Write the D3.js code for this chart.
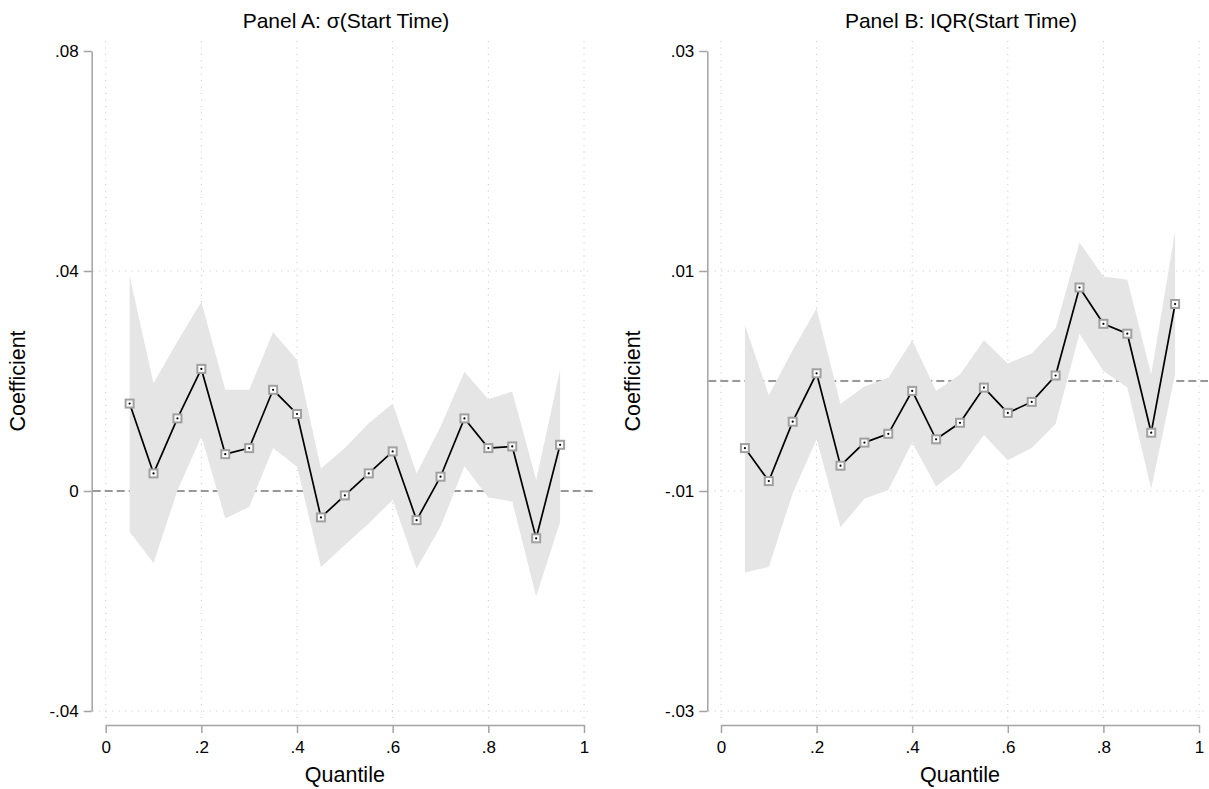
<!DOCTYPE html>
<html>
<head>
<meta charset="utf-8">
<script src="https://cdn.jsdelivr.net/npm/d3@7"></script>
<style>
  body { margin: 0; background: #fff; }
  svg { display: block; font-family: "Liberation Sans", Arial, Helvetica, sans-serif; }
</style>
</head>
<body>
<div id="chart"></div>
<script>
// Quantiles on the x axis
const quantiles = [0.05, 0.10, 0.15, 0.20, 0.25, 0.30, 0.35, 0.40, 0.45, 0.50,
                   0.55, 0.60, 0.65, 0.70, 0.75, 0.80, 0.85, 0.90, 0.95];

// Panel A: sigma(Start Time)
const coefA = [0.0159, 0.0032, 0.0132, 0.0222, 0.0067, 0.0078, 0.0184, 0.0140, -0.0048, -0.0008,
               0.0032, 0.0072, -0.0053, 0.0026, 0.0132, 0.0078, 0.0081, -0.0086, 0.0084];
const loA   = [-0.0074, -0.0131, 0.0001, 0.0099, -0.0050, -0.0029, 0.0078, 0.0044, -0.0138, -0.0098,
               -0.0059, -0.0016, -0.0141, -0.0065, 0.0045, -0.0012, -0.0019, -0.0192, -0.0056];
const hiA   = [0.0391, 0.0196, 0.0272, 0.0344, 0.0184, 0.0184, 0.0289, 0.0238, 0.0041, 0.0078,
               0.0123, 0.0159, 0.0032, 0.0117, 0.0217, 0.0167, 0.0181, 0.0020, 0.0220];

// Panel B: IQR(Start Time)
const coefB = [-0.0061, -0.0091, -0.0037, 0.0007, -0.0077, -0.0056, -0.0048, -0.0009, -0.0053, -0.0038,
               -0.0006, -0.0029, -0.0019, 0.0005, 0.0085, 0.0052, 0.0043, -0.0047, 0.0070];
const loB   = [-0.0174, -0.0169, -0.0102, -0.0053, -0.0133, -0.0107, -0.0099, -0.0056, -0.0096, -0.0079,
               -0.0049, -0.0072, -0.0061, -0.0039, 0.0043, 0.0009, -0.0006, -0.0098, 0.0006];
const hiB   = [0.0051, -0.0013, 0.0028, 0.0066, -0.0021, -0.0005, 0.0003, 0.0037, -0.0009, 0.0006,
               0.0037, 0.0016, 0.0025, 0.0048, 0.0126, 0.0095, 0.0092, 0.0006, 0.0136];

// Tick values
const xTicks = [0, 0.2, 0.4, 0.6, 0.8, 1];
const yTicksA = [-0.04, 0, 0.04, 0.08];
const yTicksB = [-0.03, -0.01, 0.01, 0.03];

const width = 1209, height = 789;

const svg = d3.select("#chart")
    .append("svg")
    .attr("width", width)
    .attr("height", height);

// strip the leading zero like Stata does, plain hyphen for minus
const fmt = d => {
    if (d === 0) return "0";
    if (d === 1) return "1";
    const s = Math.abs(d) < 0.1 ? d3.format(".2f")(Math.abs(d)) : d3.format(".1f")(Math.abs(d));
    return (d < 0 ? "-" : "") + s.replace("0.", ".");
};

const panels = [
    { title: "Panel A: σ(Start Time)", coef: coefA, lo: loA, hi: hiA, yTicks: yTicksA,
      yDomain: [-0.04, 0.08], axisX: 91.7, xRange: [105.7, 584], right: 593, titleX: 346 },
    { title: "Panel B: IQR(Start Time)", coef: coefB, lo: loB, hi: hiB, yTicks: yTicksB,
      yDomain: [-0.03, 0.03], axisX: 707.3, xRange: [721, 1199], right: 1208, titleX: 961 }
];

const gridColor = "#c4c4c4";
const axisColor = "#a3a3a3";

panels.forEach(p => {
    const g = svg.append("g");

    const x = d3.scaleLinear().domain([0, 1]).range(p.xRange);
    const y = d3.scaleLinear().domain(p.yDomain).range([711, 51]);

    // Vertical grid lines
    g.selectAll(".vgrid")
        .data(xTicks)
        .join("line")
        .attr("x1", d => x(d))
        .attr("x2", d => x(d))
        .attr("y1", 41)
        .attr("y2", 718)
        .attr("stroke", gridColor)
        .attr("stroke-width", 1)
        .attr("stroke-dasharray", "1,5.5");

    // Horizontal grid lines (not at top tick)
    g.selectAll(".hgrid")
        .data(p.yTicks.filter(d => d !== 0 && d !== p.yDomain[1]))
        .join("line")
        .attr("x1", p.axisX + 1)
        .attr("x2", p.right)
        .attr("y1", d => y(d))
        .attr("y2", d => y(d))
        .attr("stroke", gridColor)
        .attr("stroke-width", 1)
        .attr("stroke-dasharray", "1,5.5");

    // Reference line at zero
    g.append("line")
        .attr("x1", p.axisX + 1)
        .attr("x2", p.right)
        .attr("y1", y(0))
        .attr("y2", y(0))
        .attr("stroke", "#777")
        .attr("stroke-width", 1.3)
        .attr("stroke-dasharray", "8,4");

    // Confidence band
    const area = d3.area()
        .x((d, i) => x(quantiles[i]))
        .y0((d, i) => y(p.lo[i]))
        .y1((d, i) => y(p.hi[i]));

    g.append("path")
        .datum(p.coef)
        .attr("d", area)
        .attr("fill", "#e5e5e5");

    // Coefficient line
    const line = d3.line()
        .x((d, i) => x(quantiles[i]))
        .y(d => y(d));

    g.append("path")
        .datum(p.coef)
        .attr("d", line)
        .attr("fill", "none")
        .attr("stroke", "#000")
        .attr("stroke-width", 1.7);

    // Hollow square markers
    g.selectAll(".marker")
        .data(p.coef)
        .join("rect")
        .attr("x", (d, i) => x(quantiles[i]) - 4)
        .attr("y", d => y(d) - 4)
        .attr("width", 8)
        .attr("height", 8)
        .attr("fill", "#fff")
        .attr("stroke", "#a0a0a0")
        .attr("stroke-width", 2);

    g.selectAll(".dot")
        .data(p.coef)
        .join("circle")
        .attr("cx", (d, i) => x(quantiles[i]))
        .attr("cy", d => y(d))
        .attr("r", 1.1)
        .attr("fill", "#000");

    // Y axis
    const yAxis = g.append("g")
        .attr("transform", `translate(${p.axisX},0)`)
        .call(d3.axisLeft(y)
            .tickValues(p.yTicks)
            .tickFormat(fmt)
            .tickSize(8)
            .tickSizeOuter(0)
            .tickPadding(5));

    // X axis
    const xAxis = g.append("g")
        .attr("transform", "translate(0,725)")
        .call(d3.axisBottom(x)
            .tickValues(xTicks)
            .tickFormat(fmt)
            .tickSize(8)
            .tickSizeOuter(0)
            .tickPadding(8));

    [yAxis, xAxis].forEach(a => {
        a.attr("font-size", null).attr("font-family", null);
        a.select(".domain").attr("stroke", axisColor).attr("stroke-width", 1.5);
        a.selectAll(".tick line").attr("stroke", axisColor).attr("stroke-width", 1.5);
        a.selectAll(".tick text")
            .attr("fill", "#000")
            .style("font-size", "17px");
    });

    // Title
    g.append("text")
        .attr("x", p.titleX)
        .attr("y", 28)
        .attr("text-anchor", "middle")
        .style("font-size", "21px")
        .text(p.title);

    // Y axis label
    g.append("text")
        .attr("transform", `translate(${p.axisX - 67},381) rotate(-90)`)
        .attr("text-anchor", "middle")
        .style("font-size", "21.5px")
        .text("Coefficient");

    // X axis label
    g.append("text")
        .attr("x", (p.xRange[0] + p.xRange[1]) / 2)
        .attr("y", 782)
        .attr("text-anchor", "middle")
        .style("font-size", "21.5px")
        .text("Quantile");
});
</script>
</body>
</html>
